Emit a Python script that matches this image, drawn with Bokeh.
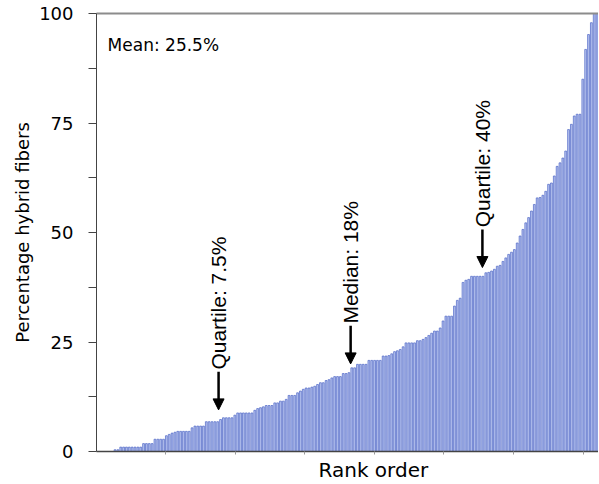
import math
from bokeh.plotting import figure
from bokeh.models import (Range1d, FixedTicker, Arrow, NormalHead, Label,
                          ColumnDataSource, LinearAxis, Title)
from bokeh.embed import file_html
from bokeh.resources import INLINE

# ---- data ----
values = [
    0, 0, 0, 0, 0, 0,
    0.4, 0.4,
    1.0, 1.0, 1.0, 1.0, 1.0, 1.0, 1.0, 1.0,
    1.8, 1.8, 1.8, 1.8,
    2.8, 2.8, 2.8, 2.8,
    3.6, 3.9, 4.2, 4.4,
    4.6, 4.6, 4.6, 4.6, 4.6,
    5.4, 5.8, 5.8, 5.8, 5.8,
    6.8, 6.8, 6.8, 6.8, 6.8,
    7.3,
    7.7, 7.7, 7.7, 7.7,
    8.3,
    8.8, 8.8, 8.8, 8.8, 8.8, 8.8,
    9.4,
    9.8, 10.0, 10.2,
    10.5, 10.5, 10.5,
    11.1, 11.1,
    11.5, 11.5, 11.9,
    12.8, 12.8, 12.8,
    13.4, 13.8,
    14.2, 14.5, 14.5, 14.7,
    14.9, 15.3, 15.7,
    15.7, 16.2,
    16.4, 16.8,
    17.1, 17.1, 17.1,
    17.8, 17.8, 18.0,
    19.1, 19.1,
    19.9, 19.9, 19.9, 19.9,
    20.8, 20.8, 20.8, 20.8, 20.8,
    21.8, 21.8,
    21.9, 22.3,
    22.8, 23.0,
    23.3,
    23.9,
    24.8, 24.8, 24.8, 24.8,
    25.3, 25.3,
    25.6,
    26.0,
    26.5, 27.0,
    27.5, 27.5,
    28.2,
    29.8,
    30.9, 30.9, 30.9,
    33.2, 34.5, 35.0,
    38.6, 39.1, 39.3,
    40.0, 40.0, 40.0, 40.0, 40.0,
    40.8, 40.9, 41.2, 41.6, 42.3, 42.5, 43.4, 44.2, 45.0, 45.5,
    46.1, 47.6, 49.2, 50.7, 52.2, 53.4, 54.9, 56.4, 57.9, 58.0,
    58.5, 59.4, 61.0, 61.3, 62.9, 65.1, 65.9, 67.0, 68.6, 73.5,
    74.7, 76.6, 77.0, 77.0, 85.0, 91.8, 95.2, 97.9, 100.0, 100.0,
]
ranks = list(range(1, len(values) + 1))

y_ticks = [0, 25, 50, 75, 100]
y_minor = [12.5, 37.5, 62.5, 87.5]

ann_labels = ["Quartile: 7.5%", "Median: 18%", "Quartile: 40%"]
ann_rank = [43.3, 89.6, 135.8]
ann_value = [7.5, 18.0, 40.0]
mean_text = "Mean: 25.5%"
x_title = "Rank order"
y_title = "Percentage hybrid fibers"

N = len(values)

p = figure(width=598, height=482, output_backend="svg", toolbar_location=None,
           x_range=Range1d(0.5, N + 0.5), y_range=Range1d(0, 100),
           min_border_left=96, min_border_right=0, min_border_top=13,
           min_border_bottom=30)
p.grid.visible = False
p.outline_line_color = None
p.background_fill_color = "white"
p.border_fill_color = "white"

src = ColumnDataSource(dict(x=ranks, top=values))
p.vbar(x="x", top="top", width=0.64, bottom=0, source=src,
       fill_color="#b8c4ef", line_color="#4e66c6", line_width=0.7)

# y axis
ya = p.yaxis[0]
ya.ticker = FixedTicker(ticks=y_ticks, minor_ticks=y_minor)
ya.axis_label = y_title
ya.axis_label_text_font = "DejaVu Sans"
ya.axis_label_text_font_size = "18px"
ya.axis_label_text_font_style = "normal"
ya.axis_label_text_color = "black"
ya.axis_label_standoff = 3
ya.major_label_text_font = "DejaVu Sans"
ya.major_label_text_font_size = "18px"
ya.major_label_text_color = "black"
ya.major_label_standoff = 15
ya.major_tick_out = 8
ya.major_tick_in = 0
ya.minor_tick_out = 8
ya.minor_tick_in = 0
ya.axis_line_color = "#444444"
ya.major_tick_line_color = "#444444"
ya.minor_tick_line_color = "#444444"

# x axis
x_tick_pos = [k * 24.4 + 0.3 for k in range(8)]
xa = p.xaxis[0]
xa.ticker = FixedTicker(ticks=x_tick_pos)
xa.major_label_overrides = {t: "" for t in x_tick_pos}
xa.major_label_text_font_size = "2px"
xa.major_label_standoff = 0
xa.major_tick_out = 3
xa.major_tick_in = 0
xa.minor_tick_out = 0
xa.axis_line_color = "#444444"
xa.axis_line_width = 1.5
xa.major_tick_line_color = "#999999"

# top frame line
top = LinearAxis(ticker=FixedTicker(ticks=[]), major_tick_out=0, major_tick_in=0,
                 minor_tick_out=0, minor_tick_in=0,
                 major_label_standoff=0, axis_line_color="#8c8c8c", axis_line_width=2)
p.add_layout(top, "above")

# x title placed below (offset to the right as in the reference)
p.add_layout(Title(text=x_title, align="left", offset=222, text_font="DejaVu Sans",
                   text_font_size="20px", text_font_style="normal",
                   text_color="black", standoff=2), "below")

# annotations
for lab, r, v in zip(ann_labels, ann_rank, ann_value):
    tip = v + 2.0
    tail = tip + 8.7
    p.add_layout(Arrow(end=NormalHead(size=11, fill_color="black", line_color="black"),
                       x_start=r, y_start=tail, x_end=r, y_end=tip,
                       line_width=2.5, line_color="black"))
    p.add_layout(Label(x=r, y=tail + 0.5, text=lab, angle=math.pi / 2,
                       text_align="left", text_baseline="middle",
                       text_font="Liberation Sans", text_font_size="21px",
                       text_color="black"))

p.add_layout(Label(x=4.4, y=92.9, text=mean_text, text_align="left",
                   text_baseline="alphabetic", text_font="DejaVu Sans",
                   text_font_size="17px", text_color="black"))

open("out.html", "w").write(file_html(p, INLINE))
